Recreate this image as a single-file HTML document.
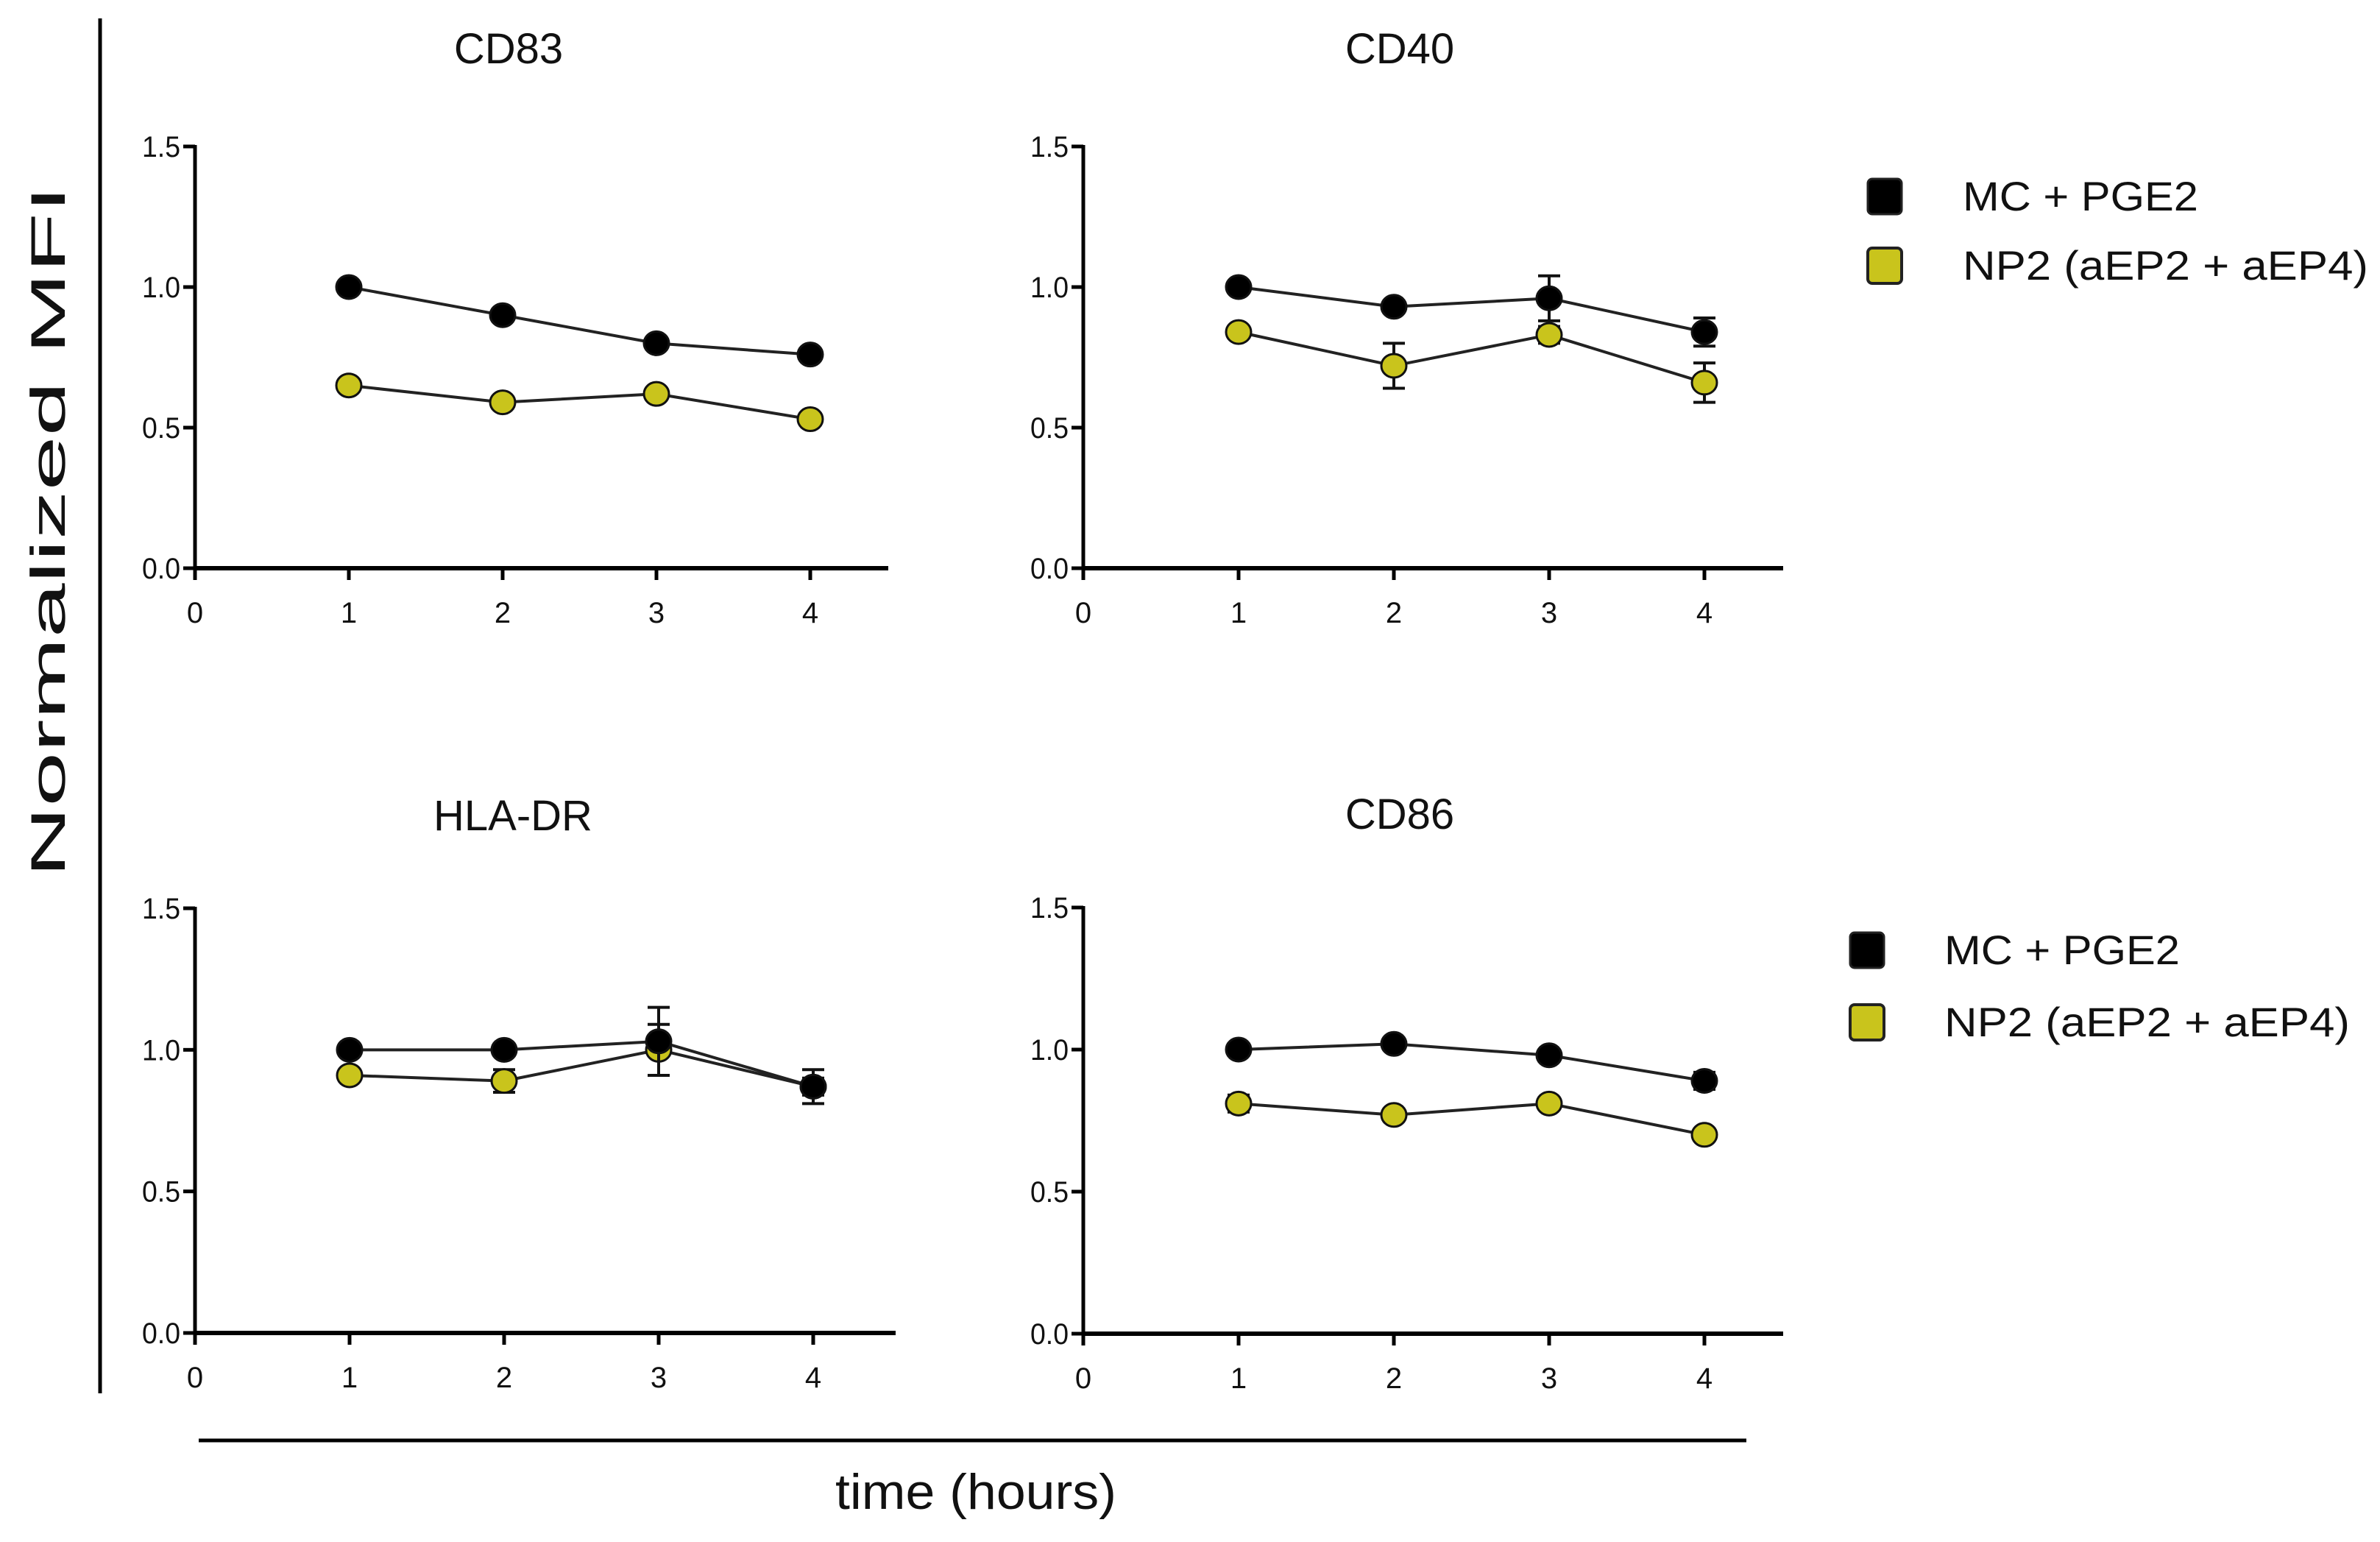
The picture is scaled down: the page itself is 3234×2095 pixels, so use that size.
<!DOCTYPE html>
<html><head><meta charset="utf-8"><style>
html,body{margin:0;padding:0;background:#fff}
svg{display:block}
text{font-family:"Liberation Sans",sans-serif;fill:#111}
</style></head><body>
<svg id="chart" width="3234" height="2095" viewBox="0 0 3234 2095" xmlns="http://www.w3.org/2000/svg">
<line x1="136" y1="25" x2="136" y2="1893" stroke="#000" stroke-width="5"/>
<text transform="translate(88,722) rotate(-90)" text-anchor="middle" font-size="66" textLength="940" lengthAdjust="spacingAndGlyphs">Normalized MFI</text>
<line x1="270" y1="1957" x2="2373" y2="1957" stroke="#000" stroke-width="5"/>
<text x="1326" y="2050" text-anchor="middle" font-size="68" textLength="382" lengthAdjust="spacingAndGlyphs">time (hours)</text>
<g id="legend-top">
<rect x="2538" y="243" width="46" height="48" rx="6" fill="#000" stroke="#222" stroke-width="3"/>
<text x="2667" y="286" font-size="56" textLength="320" lengthAdjust="spacingAndGlyphs">MC + PGE2</text>
<rect x="2538" y="337" width="46" height="48" rx="6" fill="#c9c41c" stroke="#222" stroke-width="4"/>
<text x="2667" y="380" font-size="56" textLength="551" lengthAdjust="spacingAndGlyphs">NP2 (aEP2 + aEP4)</text>
</g>
<g id="legend-bottom">
<rect x="2514" y="1267" width="46" height="48" rx="6" fill="#000" stroke="#222" stroke-width="3"/>
<text x="2642" y="1310" font-size="56" textLength="320" lengthAdjust="spacingAndGlyphs">MC + PGE2</text>
<rect x="2514" y="1365" width="46" height="48" rx="6" fill="#c9c41c" stroke="#222" stroke-width="4"/>
<text x="2642" y="1408" font-size="56" textLength="551" lengthAdjust="spacingAndGlyphs">NP2 (aEP2 + aEP4)</text>
</g>
</svg>
<script>
const xTicks = [0, 1, 2, 3, 4];
const yTicks = [0.0, 0.5, 1.0, 1.5];
const yTickLabels = ["0.0", "0.5", "1.0", "1.5"];
const panelTitles = ["CD83", "CD40", "HLA-DR", "CD86"];
const timePoints = [1, 2, 3, 4];
const cd83Mc = [1.0, 0.90, 0.80, 0.76];
const cd83McErr = [0.01, 0.01, 0.01, 0.01];
const cd83Np = [0.65, 0.59, 0.62, 0.53];
const cd83NpErr = [0.01, 0.01, 0.01, 0.01];
const cd40Mc = [1.0, 0.93, 0.96, 0.84];
const cd40McErr = [0.01, 0.01, 0.08, 0.05];
const cd40Np = [0.84, 0.72, 0.83, 0.66];
const cd40NpErr = [0.01, 0.08, 0.03, 0.07];
const hlaMc = [1.0, 1.0, 1.03, 0.87];
const hlaMcErr = [0.01, 0.01, 0.12, 0.06];
const hlaNp = [0.91, 0.89, 1.0, 0.87];
const hlaNpErr = [0.01, 0.04, 0.09, 0.03];
const cd86Mc = [1.0, 1.02, 0.98, 0.89];
const cd86McErr = [0.01, 0.01, 0.01, 0.03];
const cd86Np = [0.81, 0.77, 0.81, 0.70];
const cd86NpErr = [0.03, 0.01, 0.01, 0.01];

const NS = "http://www.w3.org/2000/svg";
const svg = document.getElementById('chart');
function mk(tag, attrs, parent) {
  const e = document.createElementNS(NS, tag);
  for (const k in attrs) e.setAttribute(k, attrs[k]);
  parent.appendChild(e);
  return e;
}
const panels = [
  {ax: 265, top: 199, bot: 772, end: 1207, unit: 209, tx: 691, ty: 86, mc: cd83Mc, mce: cd83McErr, np: cd83Np, npe: cd83NpErr},
  {ax: 1472, top: 199, bot: 772, end: 2423, unit: 211, tx: 1902, ty: 86, mc: cd40Mc, mce: cd40McErr, np: cd40Np, npe: cd40NpErr},
  {ax: 265, top: 1234, bot: 1811, end: 1217, unit: 210, tx: 697, ty: 1128, mc: hlaMc, mce: hlaMcErr, np: hlaNp, npe: hlaNpErr},
  {ax: 1472, top: 1233, bot: 1812, end: 2423, unit: 211, tx: 1902, ty: 1126, mc: cd86Mc, mce: cd86McErr, np: cd86Np, npe: cd86NpErr}
];
panels.forEach((p, i) => {
  const g = mk('g', {}, svg);
  
  
  const xs = v => p.ax + v * p.unit;
  const ys = v => p.bot - (v / 1.5) * (p.bot - p.top);
  const t = mk('text', {x: p.tx, y: p.ty, 'text-anchor': 'middle', 'font-size': 58}, g);
  t.textContent = panelTitles[i];
  
  
  const ya = mk('line', {x1: p.ax, y1: p.top - 2, x2: p.ax, y2: p.bot + 2, stroke: '#000', 'stroke-width': 5}, g);
  
  
  const xa = mk('line', {x1: p.ax - 2, y1: p.bot, x2: p.end, y2: p.bot, stroke: '#000', 'stroke-width': 6}, g);
  
  
  yTicks.forEach((v, j) => {
    const y = ys(v);
    const tk = mk('line', {x1: p.ax - 16, y1: y, x2: p.ax, y2: y, stroke: '#000', 'stroke-width': 5}, g);
    
    
    const tl = mk('text', {x: p.ax - 20, y: y + 14, 'text-anchor': 'end', 'font-size': 40, textLength: 52, lengthAdjust: 'spacingAndGlyphs'}, g);
    tl.textContent = yTickLabels[j];
    
    
  });
  xTicks.forEach(v => {
    const x = xs(v);
    const tk = mk('line', {x1: x, y1: p.bot, x2: x, y2: p.bot + 16, stroke: '#000', 'stroke-width': 5}, g);
    
    
    const tl = mk('text', {x: x, y: p.bot + 74, 'text-anchor': 'middle', 'font-size': 40}, g);
    tl.textContent = String(v);
    
    
  });
  [[p.np, p.npe, '#c9c41c', 'np2'], [p.mc, p.mce, '#000', 'mc']].forEach(([vals, errs, col, nm]) => {
    const pts = timePoints.map((tp, k) => xs(tp) + ',' + ys(vals[k])).join(' ');
    const ln = mk('polyline', {points: pts, fill: 'none', stroke: '#222', 'stroke-width': 4}, g);
    
    
    timePoints.forEach((tp, k) => {
      const x = xs(tp), y = ys(vals[k]);
      if (errs[k] > 0.015) {
        const y1 = ys(vals[k] + errs[k]), y2 = ys(vals[k] - errs[k]);
        const eb = mk('path', {d: `M${x},${y1}V${y2}M${x-15},${y1}H${x+15}M${x-15},${y2}H${x+15}`, stroke: '#111', 'stroke-width': 4, fill: 'none'}, g);
        
        
      }
      const c = mk('ellipse', {cx: x, cy: y, rx: 17, ry: 16, fill: col, stroke: '#111', 'stroke-width': 3}, g);
      
      
    });
  });
});
</script>
</body></html>
